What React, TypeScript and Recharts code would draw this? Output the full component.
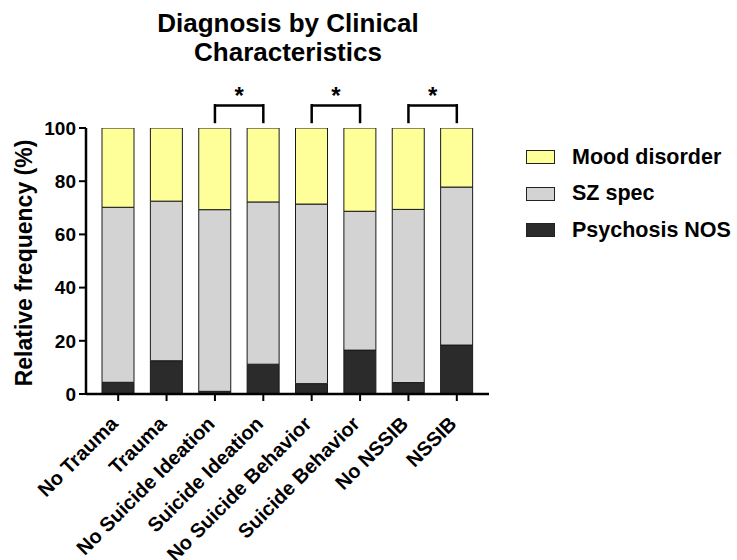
import React from "react";
import {
  BarChart, Bar, XAxis, YAxis, ReferenceLine, Legend,
} from "recharts";

const categories = [
  "No Trauma",
  "Trauma",
  "No Suicide Ideation",
  "Suicide Ideation",
  "No Suicide Behavior",
  "Suicide Behavior",
  "No NSSIB",
  "NSSIB",
];
const psychosisNOS = [4.4, 12.5, 1.0, 11.2, 3.9, 16.5, 4.3, 18.4];
const szSpec = [65.8, 60.0, 68.3, 61.0, 67.5, 52.2, 65.1, 59.4];
const moodDisorder = [29.8, 27.5, 30.7, 27.8, 28.6, 31.3, 30.6, 22.2];
const yTicks = [0, 20, 40, 60, 80, 100];
const legendOrder = ["Mood disorder", "SZ spec", "Psychosis NOS"];

// significance brackets: [left category, right category]
const brackets: [string, string][] = [
  ["No Suicide Ideation", "Suicide Ideation"],
  ["No Suicide Behavior", "Suicide Behavior"],
  ["No NSSIB", "NSSIB"],
];

const FONT = "'Liberation Sans', Arial, Helvetica, sans-serif";

const data = categories.map((name, i) => ({
  name,
  psychosis: psychosisNOS[i],
  sz: szSpec[i],
  mood: moodDisorder[i],
}));

const XTick = (props: any) => {
  const { x, y, payload } = props;
  const tx = x + 1;
  const ty = y + 22;
  return (
    <text
      x={tx}
      y={ty}
      transform={`rotate(-45, ${tx}, ${ty})`}
      textAnchor="end"
      fontFamily={FONT}
      fontWeight="bold"
      fontSize={20}
      fill="#000"
    >
      {payload.value}
    </text>
  );
};

const YLabel = (props: any) => {
  const vb = props.viewBox || {};
  const cx = 32;
  const cy = (vb.y ?? 128) + (vb.height ?? 266) / 2 + 2;
  return (
    <text
      x={cx}
      y={cy}
      transform={`rotate(-90, ${cx}, ${cy})`}
      textAnchor="middle"
      fontFamily={FONT}
      fontWeight="bold"
      fontSize={23}
      fill="#000"
    >
      Relative frequency (%)
    </text>
  );
};

const LegendContent = (props: any) => {
  const payload = props.payload || [];
  const items = legendOrder
    .map((n) => payload.find((p: any) => p.value === n))
    .filter(Boolean);
  return (
    <div style={{ fontFamily: FONT, fontWeight: "bold", fontSize: 21.5 }}>
      {items.map((it: any) => (
        <div key={it.value} style={{ display: "flex", alignItems: "center", height: 36.5 }}>
          <span
            style={{
              display: "inline-block",
              width: 27,
              height: 12,
              background: it.color,
              border: "1px solid #222",
              marginRight: 17,
            }}
          />
          <span>{it.value}</span>
        </div>
      ))}
    </div>
  );
};

export default function App() {
  return (
    <div style={{ position: "absolute", left: 0, top: 0, width: 737, height: 560, background: "#fff" }}>
      <div
        style={{
          position: "absolute",
          left: 87,
          width: 402,
          top: 9,
          textAlign: "center",
          fontFamily: FONT,
          fontWeight: "bold",
          fontSize: 26,
          lineHeight: "29px",
        }}
      >
        Diagnosis by Clinical
        <br />
        Characteristics
      </div>
      <BarChart
        width={737}
        height={560}
        data={data}
        margin={{ top: 128, right: 248, left: 0, bottom: 0 }}
        barSize={32}
      >
        <XAxis
          dataKey="name"
          height={166}
          interval={0}
          padding={{ left: 8, right: 8 }}
          tickSize={7}
          tickMargin={2}
          tick={<XTick />}
          axisLine={{ stroke: "#000", strokeWidth: 2.5 }}
          tickLine={{ stroke: "#000", strokeWidth: 2 }}
        />
        <YAxis
          width={86}
          domain={[0, 100]}
          ticks={yTicks}
          allowDataOverflow
          tickSize={7}
          tickMargin={3}
          tick={{ fontFamily: FONT, fontWeight: "bold", fontSize: 19, fill: "#000" }}
          axisLine={{ stroke: "#000", strokeWidth: 2.5 }}
          tickLine={{ stroke: "#000", strokeWidth: 2 }}
          label={<YLabel />}
        />
        <Legend
          layout="vertical"
          align="center"
          verticalAlign="middle"
          content={<LegendContent />}
          wrapperStyle={{ position: "absolute", left: 526, top: 139, width: 211, height: 112 }}
        />
        <Bar dataKey="psychosis" name="Psychosis NOS" stackId="a" fill="#2B2B2B" stroke="#1a1a1a" strokeWidth={1} isAnimationActive={false} />
        <Bar dataKey="sz" name="SZ spec" stackId="a" fill="#D3D3D3" stroke="#1a1a1a" strokeWidth={1} isAnimationActive={false} />
        <Bar dataKey="mood" name="Mood disorder" stackId="a" fill="#FFFF99" stroke="#1a1a1a" strokeWidth={1} isAnimationActive={false} />
        {brackets.map(([a, b]) => (
          <ReferenceLine
            key={a + "-h"}
            segment={[{ x: a, y: 108.5 }, { x: b, y: 108.5 }]}
            stroke="#000"
            strokeWidth={2.5}
            ifOverflow="visible"
            label={{
              value: "*",
              position: "top",
              offset: 1,
              style: { fontFamily: FONT, fontWeight: "bold", fontSize: 24, fill: "#000" },
            }}
          />
        ))}
        {brackets.flatMap(([a, b]) =>
          [a, b].map((c) => (
            <ReferenceLine
              key={c + "-v"}
              segment={[{ x: c, y: 101.8 }, { x: c, y: 109 }]}
              stroke="#000"
              strokeWidth={2.5}
              ifOverflow="visible"
            />
          ))
        )}
      </BarChart>
    </div>
  );
}
